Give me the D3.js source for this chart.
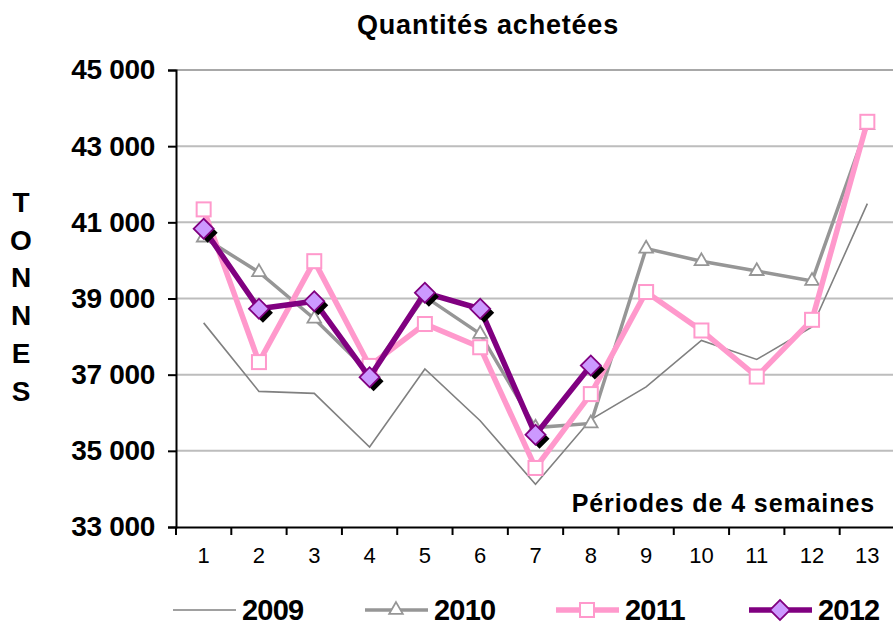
<!DOCTYPE html>
<html><head><meta charset="utf-8">
<script src="https://cdn.jsdelivr.net/npm/d3@7"></script>
<style>
html,body{margin:0;padding:0;background:#fff;}
svg{display:block;font-family:"Liberation Sans",Arial,sans-serif;}
</style></head>
<body>
<svg id="chart" width="893" height="625"></svg>
<script>
const categories = ["1","2","3","4","5","6","7","8","9","10","11","12","13"];
const yTicks = [33000,35000,37000,39000,41000,43000,45000];
const s2009 = [38360,36560,36510,35100,37150,35790,34120,35820,36680,37900,37400,38250,41490];
const s2010 = [40600,39690,38470,37050,39050,38070,35610,35720,40310,39980,39720,39460,43550];
const s2011 = [41340,37330,39980,37230,38330,37720,34550,36490,39170,38160,36950,38440,43640];
const s2012 = [40830,38730,38930,36930,39150,38730,35420,37240,null,null,null,null,null];
const seriesNames = ["2009","2010","2011","2012"];

(function(){
const svg = d3.select("#chart");
const mL = 176, mR = 895, mT = 70, mB = 527;

const x = d3.scaleBand().domain(categories).range([mL, mR]);
const y = d3.scaleLinear().domain([33000,45000]).range([mB, mT]);

// gridlines
svg.append("g").selectAll("line").data(yTicks.slice(1)).join("line")
  .attr("x1", mL).attr("x2", 893)
  .attr("y1", d=>y(d)).attr("y2", d=>y(d))
  .attr("stroke", d=> d===45000 ? "#a8a8a8" : "#bdbdbd").attr("stroke-width", 2);

// y axis
const fmt = d => d3.format(",")(d).replace(",", " ");
const yAxis = svg.append("g").attr("transform", `translate(${mL},0)`)
  .call(d3.axisLeft(y).tickValues(yTicks).tickSize(8).tickPadding(13).tickFormat(fmt));
yAxis.select(".domain").attr("stroke","#000").attr("stroke-width",2);
yAxis.selectAll(".tick line").attr("stroke","#000").attr("stroke-width",2);
yAxis.selectAll(".tick text").attr("font-size", 28).attr("font-weight","bold")
  .attr("fill","#000").attr("font-family","Liberation Sans, Arial, sans-serif").attr("letter-spacing", -0.3);

// x axis
const xAxis = svg.append("g").attr("transform", `translate(0,${mB})`)
  .call(d3.axisBottom(x).tickSize(0).tickPadding(20));
xAxis.select(".domain").attr("stroke","#000").attr("stroke-width",2);
xAxis.selectAll(".tick text").attr("font-size", 22).attr("fill","#000")
  .attr("font-family","Liberation Sans, Arial, sans-serif");
// ticks at band boundaries
svg.append("g").selectAll("line").data(categories).join("line")
  .attr("x1", d=>x(d)).attr("x2", d=>x(d))
  .attr("y1", mB).attr("y2", mB+8)
  .attr("stroke","#000").attr("stroke-width",2);

const cx = (d,i) => x(categories[i]) + x.bandwidth()/2;
const line = d3.line().defined(d=>d!=null).x((d,i)=>cx(d,i)).y(d=>y(d));

// 2009
svg.append("path").datum(s2009).attr("d", line)
  .attr("fill","none").attr("stroke","#808080").attr("stroke-width",1.6);

// 2010
svg.append("path").datum(s2010).attr("d", line)
  .attr("fill","none").attr("stroke","#969696").attr("stroke-width",3.5);
const tri = d3.symbol().type(d3.symbolTriangle).size(80);
svg.append("g").selectAll("path").data(s2010).join("path")
  .attr("d", tri).attr("transform",(d,i)=>`translate(${cx(d,i)},${y(d)})`)
  .attr("fill","#fff").attr("stroke","#969696").attr("stroke-width",1.8);

// 2011
svg.append("path").datum(s2011).attr("d", line)
  .attr("fill","none").attr("stroke","#FF99CC").attr("stroke-width",5.5);
svg.append("g").selectAll("rect").data(s2011).join("rect")
  .attr("x",(d,i)=>cx(d,i)-7).attr("y",d=>y(d)-7).attr("width",14).attr("height",14)
  .attr("fill","#fff").attr("stroke","#FF99CC").attr("stroke-width",2);

// 2012
svg.append("path").datum(s2012).attr("d", line)
  .attr("fill","none").attr("stroke","#800080").attr("stroke-width",5.5);
const dia = d3.symbol().type(d3.symbolSquare).size(200);
const pts12 = s2012.map((v,i)=>({v,i})).filter(p=>p.v!=null);
svg.append("g").selectAll("path").data(pts12).join("path")
  .attr("d", dia).attr("transform",p=>`translate(${cx(p.v,p.i)+4},${y(p.v)+4}) rotate(45)`)
  .attr("fill","#000");
svg.append("g").selectAll("path").data(pts12).join("path")
  .attr("d", dia).attr("transform",p=>`translate(${cx(p.v,p.i)},${y(p.v)}) rotate(45)`)
  .attr("fill","#CC99FF").attr("stroke","#800080").attr("stroke-width",1.8);

// title
svg.append("text").attr("x", 488).attr("y", 34).attr("text-anchor","middle")
  .attr("font-size", 27).attr("font-weight","bold").attr("fill","#000").attr("letter-spacing",0.8)
  .text("Quantités achetées");

// y label TONNES
const letters = "TONNES".split("");
svg.append("g").selectAll("text").data(letters).join("text")
  .attr("x", 21).attr("y",(d,i)=>212 + i*37.7).attr("text-anchor","middle")
  .attr("font-size", 28).attr("font-weight","bold").attr("fill","#000")
  .text(d=>d);

// x label
svg.append("text").attr("x", 875).attr("y", 512).attr("text-anchor","end")
  .attr("font-size", 25).attr("font-weight","bold").attr("fill","#000").attr("letter-spacing",0.9)
  .text("Périodes de 4 semaines");

// legend
const legX = [173, 365, 556, 749];
const legY = 610;
const lg = svg.append("g");
seriesNames.forEach((name,k)=>{
  const g = lg.append("g").attr("transform",`translate(${legX[k]},${legY})`);
  const col = ["#808080","#969696","#FF99CC","#800080"][k];
  const sw = [1.6,3.5,5.5,5.5][k];
  g.append("line").attr("x1",0).attr("x2",63).attr("y1",0).attr("y2",0)
    .attr("stroke",col).attr("stroke-width",sw);
  if(k===1) g.append("path").attr("d",tri).attr("transform","translate(31,0)")
    .attr("fill","#fff").attr("stroke",col).attr("stroke-width",1.8);
  if(k===2) g.append("rect").attr("x",24).attr("y",-7).attr("width",14).attr("height",14)
    .attr("fill","#fff").attr("stroke",col).attr("stroke-width",2);
  if(k===3) g.append("path").attr("d",dia).attr("transform","translate(31,0) rotate(45)")
    .attr("fill","#CC99FF").attr("stroke",col).attr("stroke-width",1.8);
  g.append("text").attr("x",69).attr("y",0).attr("dy","0.36em")
    .attr("font-size",29).attr("font-weight","bold").attr("fill","#000")
    .attr("letter-spacing",-0.8).text(name);
});
})();
</script>
</body></html>
